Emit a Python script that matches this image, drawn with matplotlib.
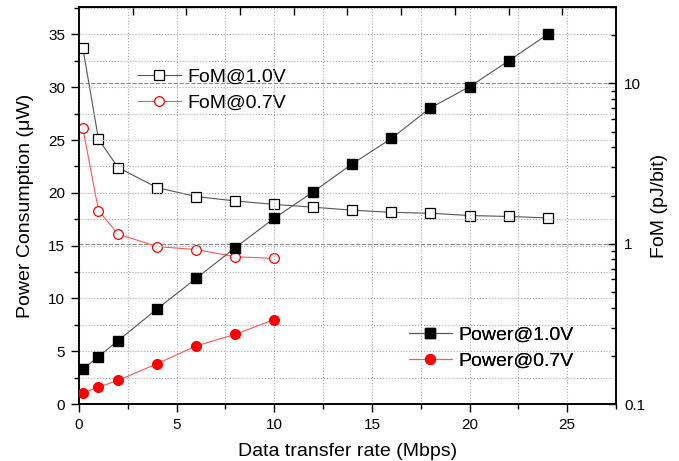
import matplotlib
matplotlib.use("Agg")
import matplotlib.pyplot as plt
from matplotlib.ticker import MultipleLocator, LogLocator, NullFormatter, FixedLocator

plt.rcParams['font.family'] = ['Liberation Sans', 'DejaVu Sans']

rate_10 = [0.2, 1, 2, 4, 6, 8, 10, 12, 14, 16, 18, 20, 22, 24]
power_10 = [3.3, 4.5, 6.0, 9.0, 11.9, 14.8, 17.6, 20.1, 22.75, 25.15, 28.05, 30.05, 32.5, 35.0]
fom_10 = [16.6, 4.49, 2.99, 2.24, 1.97, 1.85, 1.76, 1.69, 1.62, 1.57, 1.55, 1.50, 1.48, 1.45]

rate_07 = [0.2, 1, 2, 4, 6, 8, 10]
power_07 = [1.05, 1.6, 2.24, 3.82, 5.5, 6.6, 8.0]
fom_07 = [5.26, 1.61, 1.15, 0.96, 0.92, 0.83, 0.81]

fig = plt.figure(figsize=(6.79, 4.61), dpi=100)
ax = fig.add_axes([0.1163, 0.1236, 0.7909, 0.8612])
ax2 = ax.twinx()

grey = '#555555'
red = '#ff0000'

ax.plot(rate_10, power_10, color=grey, lw=0.8, marker='s', ms=6.5, mfc='black', mec='black', label='Power@1.0V', zorder=3)
ax.plot(rate_07, power_07, color='#ff5555', lw=0.8, marker='o', ms=7, mfc=red, mec=red, label='Power@0.7V', zorder=3)

ax2.plot(rate_10, fom_10, color=grey, lw=0.8, marker='s', ms=6.5, mfc='white', mec='black', mew=0.9, label='FoM@1.0V')
ax2.plot(rate_07, fom_07, color='#ff5555', lw=0.8, marker='o', ms=7, mfc='white', mec=red, mew=0.9, label='FoM@0.7V')

ax.set_xlim(0, 27.5)
ax.set_ylim(0, 37.6)
ax2.set_yscale('log')
ax2.set_ylim(0.1, 30)

ax.xaxis.set_major_locator(MultipleLocator(5))
ax.xaxis.set_minor_locator(MultipleLocator(2.5))
ax.yaxis.set_major_locator(MultipleLocator(5))
ax.yaxis.set_minor_locator(MultipleLocator(2.5))
ax.tick_params(which='major', direction='out', length=6, width=1, labelsize=11, pad=4)
ax.tick_params(which='minor', direction='out', length=3.5, width=1)

ax2.yaxis.set_major_locator(FixedLocator([0.1, 1, 10]))
ax2.yaxis.set_major_formatter(matplotlib.ticker.FixedFormatter(['0.1', '1', '10']))
ax2.yaxis.set_minor_locator(LogLocator(base=10, subs=range(2, 10)))
ax2.yaxis.set_minor_formatter(NullFormatter())
ax2.tick_params(which='major', direction='in', length=6, width=1, labelsize=11, pad=6)
ax2.tick_params(which='minor', direction='in', length=3.5, width=1)

top = ax.secondary_xaxis('top')
top.set_xticks([2.75 * k for k in range(1, 10)])
top.tick_params(direction='in', length=6, width=1, labeltop=False)

ax.grid(True, which='both', ls=':', color='#aaaaaa', lw=0.8)
ax2.grid(True, which='major', ls='--', color='#888888', lw=0.8)

for a in (ax, ax2):
    for s in a.spines.values():
        s.set_linewidth(1.2)

ax.set_xlabel('Data transfer rate (Mbps)', fontsize=14, labelpad=8)
ax.set_ylabel('Power Consumption (μW)', fontsize=14, labelpad=10)
ax2.set_ylabel('FoM (pJ/bit)', fontsize=14, labelpad=4)

ax.set_zorder(ax2.get_zorder() + 1)
ax.patch.set_visible(False)

leg1 = ax2.legend(loc='upper left', bbox_to_anchor=(0.095, 0.865), frameon=False, fontsize=14,
                  handlelength=2.2, handletextpad=0.35, labelspacing=0.4, borderaxespad=0)
leg2 = ax.legend(loc='upper left', bbox_to_anchor=(0.6, 0.215), frameon=False, fontsize=14,
                 handlelength=2.2, handletextpad=0.35, labelspacing=0.4, borderaxespad=0)
ax.add_artist(leg2)

fig.savefig('out.png', dpi=100)
